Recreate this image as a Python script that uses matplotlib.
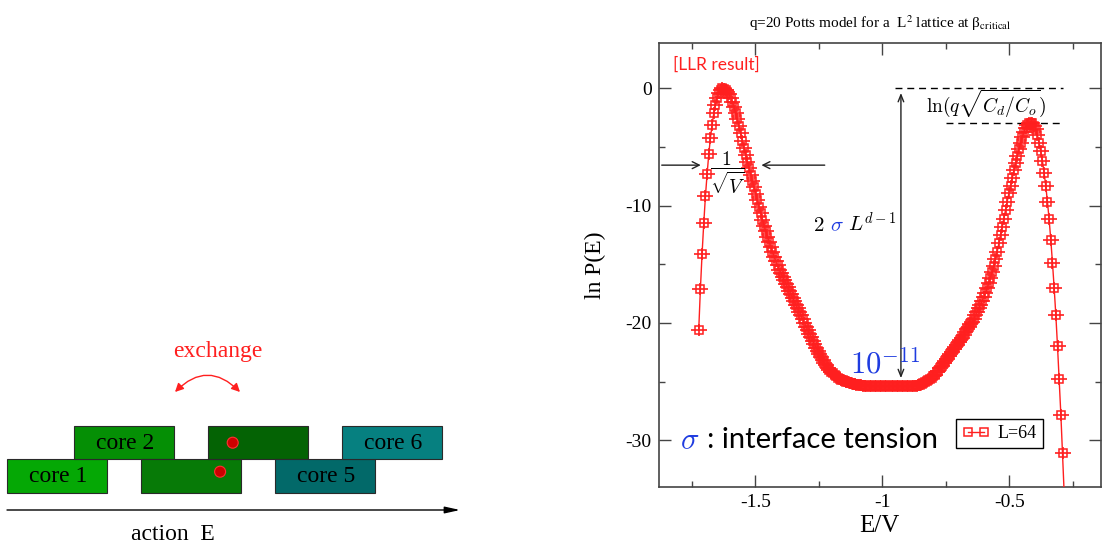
import numpy as np
import matplotlib
matplotlib.use('Agg')
import matplotlib.pyplot as plt
from matplotlib.patches import Rectangle, Circle, FancyArrowPatch

plt.rcParams['axes.unicode_minus'] = False
plt.rcParams['mathtext.fontset'] = 'cm'

# LLR estimate of ln P(E), q=20 Potts, L=64 (uniform energy intervals)
E_V = np.linspace(-1.7224, -0.2836, 219)
lnP = [
    -20.6, -17.1, -14.1, -11.5, -9.2, -7.3, -5.6, -4.2, -3.1, -2.1,
    -1.4, -0.8, -0.4, -0.15, 0.0, -0.05, -0.15, -0.3, -0.5, -0.8,
    -1.15, -1.6, -2.1, -2.65, -3.25, -3.85, -4.45, -5.05, -5.65, -6.25,
    -6.8, -7.35, -7.9, -8.45, -9.0, -9.55, -10.1, -10.65, -11.2, -11.7,
    -12.2, -12.65, -13.1, -13.5, -13.95, -14.35, -14.75, -15.1, -15.45, -15.75,
    -16.05, -16.35, -16.65, -16.95, -17.25, -17.55, -17.85, -18.15, -18.45, -18.75,
    -19.05, -19.35, -19.7, -20.0, -20.3, -20.6, -20.9, -21.2, -21.5, -21.8,
    -22.1, -22.35, -22.65, -22.9, -23.15, -23.4, -23.6, -23.8, -24.0, -24.15,
    -24.3, -24.45, -24.55, -24.65, -24.75, -24.85, -24.9, -24.95, -25.0, -25.05,
    -25.1, -25.15, -25.2, -25.22, -25.25, -25.3, -25.3, -25.3, -25.35, -25.35,
    -25.35, -25.4, -25.4, -25.4, -25.4, -25.4, -25.4, -25.4, -25.4, -25.4,
    -25.4, -25.4, -25.4, -25.4, -25.4, -25.4, -25.4, -25.4, -25.4, -25.4,
    -25.4, -25.4, -25.4, -25.4, -25.4, -25.4, -25.4, -25.4, -25.4, -25.35,
    -25.35, -25.3, -25.25, -25.2, -25.15, -25.05, -24.95, -24.85, -24.75, -24.65,
    -24.55, -24.4, -24.2, -24.05, -23.85, -23.65, -23.45, -23.25, -23.05, -22.85,
    -22.65, -22.45, -22.25, -22.05, -21.85, -21.65, -21.45, -21.25, -21.0, -20.8,
    -20.55, -20.35, -20.1, -19.9, -19.65, -19.35, -19.05, -18.75, -18.45, -18.1,
    -17.8, -17.45, -17.05, -16.6, -16.15, -15.65, -15.15, -14.55, -13.95, -13.2,
    -12.5, -11.8, -11.1, -10.35, -9.65, -8.95, -8.3, -7.65, -7.0, -6.4,
    -5.8, -5.2, -4.65, -4.15, -3.7, -3.35, -3.1, -2.98, -2.93, -3.0,
    -3.2, -3.5, -3.98, -4.64, -5.35, -6.2, -7.2, -8.33, -9.67, -11.17,
    -12.93, -14.87, -17.0, -19.33, -21.97, -24.8, -27.8, -31.1, -34.6,
]

# replica cores along the action axis
cores = ['core 1', 'core 2', '', '', 'core 5', 'core 6']
core_colors = ['#05a805', '#058f05', '#077a07', '#046304', '#026969', '#068080']

red = '#ff1f1f'
blue = '#1f3ce0'
serif = 'Liberation Serif'

fig = plt.figure(figsize=(11.05, 5.49), dpi=100)

# ---- schematic on the left, in pixel units ----
sk = fig.add_axes([0, 0, 1, 1])
sk.set_xlim(0, 1105)
sk.set_ylim(549, 0)
sk.axis('off')

box_w, box_h, shift = 100, 33.3, 66.9
for k, (name, col) in enumerate(zip(cores, core_colors)):
    x0 = 7.3 + k * shift
    y0 = 459.3 if k % 2 == 0 else 426.0
    sk.add_patch(Rectangle((x0, y0), box_w, box_h, facecolor=col,
                           edgecolor='#2a2a2a', lw=0.8))
    if name:
        sk.text(x0 + box_w / 2 + 1, y0 + box_h / 2 + 1, name, ha='center',
                va='center', fontsize=17, family=serif)
    # the two walkers being swapped
    if k == 2:
        sk.add_patch(Circle((x0 + 79, y0 + 12.4), 5.5, facecolor='#cc0000',
                            edgecolor='#ff3030', lw=0.8))
    if k == 3:
        sk.add_patch(Circle((x0 + 24.7, y0 + 16.7), 5.5, facecolor='#cc0000',
                            edgecolor='#ff3030', lw=0.8))

sk.annotate('', xy=(460, 510), xytext=(7, 510),
            arrowprops=dict(arrowstyle='-|>,head_length=0.9,head_width=0.2',
                            color='black', lw=1.0, shrinkA=0, shrinkB=0))
sk.text(173, 535, 'action  E', ha='center', va='center', fontsize=17, family=serif)
sk.text(218, 351, 'exchange', ha='center', va='center', fontsize=17,
        family=serif, color=red)
sk.add_patch(FancyArrowPatch((175, 392), (240, 392),
                             connectionstyle='arc3,rad=-0.5',
                             arrowstyle='<|-|>,head_length=5,head_width=2.5',
                             color=red, lw=1.0, shrinkA=0, shrinkB=0))

# ---- ln P(E) ----
ax = fig.add_axes([0.5961, 0.1135, 0.4000, 0.8082])
ax.plot(E_V, lnP, color=red, lw=1.0, marker='s', ms=6, mfc='none',
        mec=red, mew=1.1, label='L=64', zorder=3)
ax.plot(E_V, lnP, ls='none', marker='_', ms=11, mew=1.2, color=red, zorder=3)
ax.plot(E_V, lnP, ls='none', marker='|', ms=9, mew=1.2, color=red, zorder=3)

ax.set_xlim(-1.88, -0.14)
ax.set_ylim(-33.95, 3.86)
ax.set_xticks([-1.5, -1, -0.5])
ax.set_xticklabels(['-1.5', '-1', '-0.5'])
ax.set_xticks([-1.75, -1.25, -0.75, -0.25], minor=True)
ax.set_yticks([0, -10, -20, -30])
ax.set_yticklabels(['0', '-10', '-20', '-30'])
ax.set_yticks([-5, -15, -25], minor=True)
ax.tick_params(which='both', direction='in', top=True, right=True,
               color='#444444', width=1.0)
ax.tick_params(which='major', length=8.5, pad=5, labelsize=14)
ax.tick_params(which='minor', length=4.5)
for lab in ax.get_xticklabels() + ax.get_yticklabels():
    lab.set_family(serif)
for sp in ax.spines.values():
    sp.set_color('#444444')
    sp.set_linewidth(1.2)

ax.set_xlabel('E/V', fontsize=18, family=serif)
ax.xaxis.set_label_coords(0.5, -0.064)
ax.set_ylabel('ln P(E)', fontsize=17, family=serif)
ax.yaxis.set_label_coords(-0.119, 0.5)
ax.set_title(r'q=20 Potts model for a  L$^2$ lattice at β$_{\mathrm{critical}}$',
             fontsize=11, family=serif, math_fontfamily='stix', pad=11)

ax.text(-1.825, 2.0, '[LLR result]', color=red, fontsize=12.5, family='Lato',
        va='center')

# peak heights and the barrier between them
top_left = max(lnP[:100])
top_right = max(lnP[150:])
bottom = min(lnP[60:180])
ax.plot([-0.9512, -0.2881], [top_left, top_left], color='black', lw=1.0,
        dashes=(5, 3.5))
ax.plot([-0.7472, -0.2937], [top_right, top_right], color='black', lw=1.0,
        dashes=(5, 3.5))
ax.annotate('', xy=(-0.9264, top_left - 0.4), xytext=(-0.9264, bottom + 0.7),
            arrowprops=dict(arrowstyle='<->,head_length=0.5,head_width=0.2',
                            color='#222222', lw=1.0, shrinkA=0, shrinkB=0))
ax.text(-0.589, -1.3, r'$\ln(q\sqrt{C_d/C_o})$', fontsize=14, ha='center',
        va='center')

ax.text(-1.2724, -12.2, r'$2$', fontsize=15, va='baseline')
ax.text(-1.2067, -12.2, r'$\sigma$', fontsize=15, va='baseline', color=blue)
ax.text(-1.1358, -12.2, r'$L^{d-1}$', fontsize=15, va='baseline')

ax.text(-1.6083, -7.2, r'$\dfrac{1}{\sqrt{V}}$', fontsize=14, ha='center',
        va='center')
ax.annotate('', xy=(-1.7146, -6.55), xytext=(-1.868, -6.55),
            arrowprops=dict(arrowstyle='->,head_length=0.5,head_width=0.25',
                            color='#222222', lw=1.0, shrinkA=0, shrinkB=0))
ax.annotate('', xy=(-1.4756, -6.55), xytext=(-1.2264, -6.55),
            arrowprops=dict(arrowstyle='->,head_length=0.5,head_width=0.25',
                            color='#222222', lw=1.0, shrinkA=0, shrinkB=0))

ax.text(-1.128, -24.3, r'$10^{-11}$', fontsize=22, color=blue, va='baseline')

ax.text(-1.797, -30.0, r'$\sigma$', fontsize=22, color=blue, va='center')
ax.text(-1.69, -30.0, ': interface tension', fontsize=21, family='Lato',
        va='center')

leg = ax.legend(loc='lower left', bbox_to_anchor=(0.673, 0.0866),
                borderaxespad=0, numpoints=2, handlelength=1.5,
                handletextpad=0.45, borderpad=0.35, fancybox=False,
                framealpha=1, edgecolor='black', prop={'family': serif, 'size': 13})
leg.get_frame().set_linewidth(1.0)

fig.savefig('out.png', dpi=100)
